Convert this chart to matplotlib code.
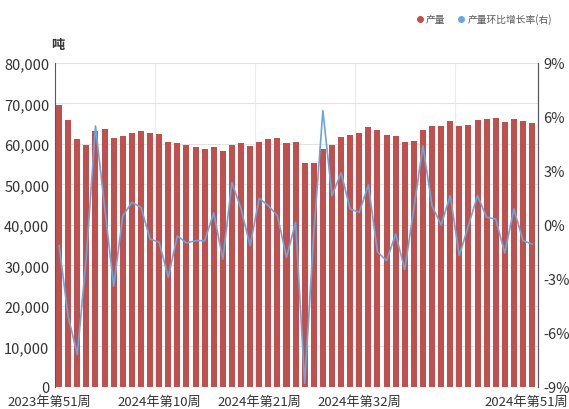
import matplotlib
matplotlib.use('Agg')
import matplotlib.pyplot as plt
from matplotlib.lines import Line2D
from matplotlib.ticker import FuncFormatter
from matplotlib.transforms import ScaledTranslation
import numpy as np

plt.rcParams['font.family'] = ['Noto Sans CJK SC', 'DejaVu Sans']

# weekly output (tons), 2023 week 51 .. 2024 week 51
weeks = (['2023年第51周', '2023年第52周']
         + [f'2024年第{w}周' for w in range(1, 52)])
output = [69700, 66000, 61200, 59800, 63200, 63700, 61500, 61900, 62800, 63300,
          62800, 62400, 60500, 60200, 59700, 59300, 58800, 59200, 58200, 59700,
          60200, 59500, 60400, 61200, 61500, 60300, 60500, 55300, 55300, 58800,
          59800, 61600, 62300, 62800, 64300, 63400, 62200, 61900, 60400, 60700,
          63500, 64400, 64400, 65600, 64400, 64600, 65800, 66100, 66400, 65400,
          66100, 65700, 65100]
# week-on-week change (%)
wow = [-1.15, -5.1, -7.2, -1.7, 5.5, 1.0, -3.4, 0.5, 1.26, 0.98,
       -0.78, -0.96, -2.9, -0.6, -1.0, -0.87, -0.87, 0.67, -1.9, 2.37,
       0.89, -1.15, 1.48, 1.07, 0.52, -1.8, 0.15, -8.8, -0.5, 6.35,
       1.63, 2.89, 0.89, 0.7, 2.22, -1.5, -1.98, -0.5, -2.48, 0.9,
       4.4, 1.07, 0.0, 1.63, -1.7, -0.04, 1.63, 0.43, 0.33, -1.56,
       0.89, -0.87, -1.06]
label_idx = [0, 11, 22, 33, 52]

bar_color = '#C0504D'
line_color = '#6AA6DD'
text_color = '#333333'

fig = plt.figure(figsize=(5.69, 4.10), dpi=100)
ax = fig.add_axes([0.0967, 0.0537, 0.8488, 0.7903])
x = np.arange(len(output))

ax.bar(x, output, width=0.66, color=bar_color, zorder=2)
ax.set_ylim(0, 80000)
ax.set_yticks(np.arange(0, 80001, 10000))
ax.yaxis.set_major_formatter(FuncFormatter(lambda v, p: f'{int(v):,}'))
ax.set_xlim(-0.45, 52.65)
ax.set_xticks(label_idx)
ax.set_xticklabels([weeks[i] for i in label_idx], fontsize=9.5, color=text_color)
ax.tick_params(axis='x', length=0, pad=6)
ax.tick_params(axis='y', length=0, labelsize=10.5, labelcolor=text_color, pad=4)
ax.grid(axis='y', color='#E3E3E3', lw=0.8, zorder=0)
for b in [10.5, 21.5, 32.5, 43.5]:
    ax.axvline(b, color='#EBEBEB', lw=0.8, zorder=0)

# keep the outer week labels inside the figure
xlabels = ax.get_xticklabels()
for lab, dx in [(xlabels[0], -10), (xlabels[-1], -6)]:
    lab.set_transform(lab.get_transform() + ScaledTranslation(dx / 100, 0, fig.dpi_scale_trans))

for side in ['top', 'bottom']:
    ax.spines[side].set_visible(False)
ax.spines['left'].set_color('#595959')
ax.spines['right'].set_color('#595959')

ax2 = ax.twinx()
ax2.plot(x, wow, color=line_color, lw=1.2, zorder=3)
ax2.set_ylim(-9, 9)
ax2.set_yticks(np.arange(-9, 10, 3))
ax2.yaxis.set_major_formatter(FuncFormatter(lambda v, p: f'{int(v)}%'))
ax2.tick_params(axis='y', length=0, labelsize=10.5, labelcolor=text_color, pad=4)
for side in ['top', 'bottom', 'left']:
    ax2.spines[side].set_visible(False)
ax2.spines['right'].set_color('#595959')

fig.text(0.102, 0.89, '吨', fontsize=9.5, fontweight='bold', color=text_color,
         ha='center', va='center')

handles = [Line2D([], [], ls='none', marker='o', ms=4, color=bar_color),
           Line2D([], [], ls='none', marker='o', ms=4, color=line_color)]
fig.legend(handles, ['产量', '产量环比增长率(右)'], loc='center right',
           bbox_to_anchor=(0.985, 0.952), ncol=2, frameon=False, fontsize=7,
           labelcolor='#595959', handletextpad=0.1, columnspacing=1.2,
           handlelength=1.0)

fig.savefig('out.png', dpi=100)
